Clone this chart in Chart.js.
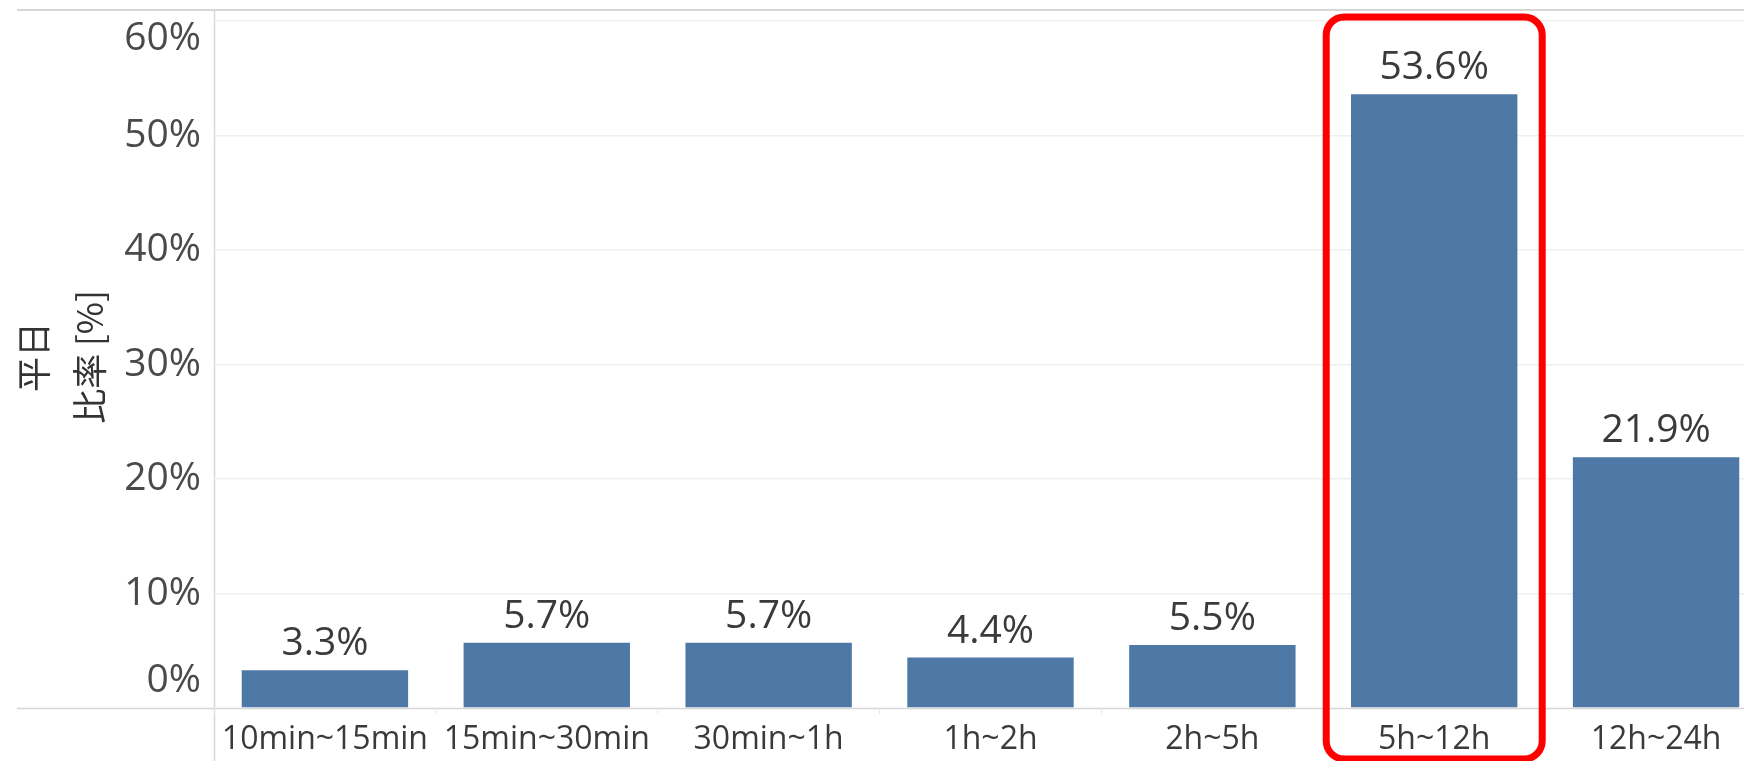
<!DOCTYPE html>
<html>
<head>
<meta charset="utf-8">
<script src="https://cdn.jsdelivr.net/npm/chart.js@4/dist/chart.umd.min.js"></script>
<style>
  html, body { margin: 0; padding: 0; background: #fff; }
  #wrap { width: 1744px; height: 761px; overflow: hidden; position: relative; }
  canvas { display: block; }
</style>
</head>
<body>
<div id="wrap">
  <canvas id="share-chart" width="1767" height="761"></canvas>
</div>
<script>
// data
const categories = ['10min~15min', '15min~30min', '30min~1h', '1h~2h', '2h~5h', '5h~12h', '12h~24h'];
const shares = [3.3, 5.7, 5.7, 4.4, 5.5, 53.6, 21.9];
const yTicks = [0, 10, 20, 30, 40, 50, 60];
const yTitle = ['平日', '比率 [%]'];
const highlightIndex = 5;

const barColor = '#4e79a7';
const numFont = '"Open Sans", "DejaVu Sans", sans-serif';
const cjkFont = '"Noto Sans CJK JP", "Noto Sans", sans-serif';

// frame lines, axis title, y tick labels, value labels and the red highlight box
const decorations = {
    id: 'decorations',
    beforeDraw(chart) {
        const ctx = chart.ctx;
        const y = chart.scales.y;
        const base = y.getPixelForValue(0);
        ctx.save();
        ctx.strokeStyle = '#d6d6d6';
        ctx.lineWidth = 2;
        ctx.beginPath();
        ctx.moveTo(17, 10);
        ctx.lineTo(chart.width, 10);
        ctx.stroke();
        ctx.lineWidth = 1.5;
        ctx.beginPath();
        ctx.moveTo(17, base + 0.5);
        ctx.lineTo(chart.width, base + 0.5);
        ctx.moveTo(chart.chartArea.left + 0.5, 10);
        ctx.lineTo(chart.chartArea.left + 0.5, chart.height);
        ctx.stroke();
        ctx.restore();
    },
    afterDraw(chart) {
        const ctx = chart.ctx;
        const y = chart.scales.y;
        const x = chart.scales.x;
        ctx.save();

        // rotated two-line axis title
        ctx.save();
        ctx.translate(0, 357);
        ctx.rotate(-Math.PI / 2);
        ctx.font = '35px ' + cjkFont;
        ctx.fillStyle = '#333';
        ctx.textAlign = 'center';
        ctx.textBaseline = 'middle';
        ctx.fillText(yTitle[0], 0, 34);
        ctx.fillText(yTitle[1], 0, 90);
        ctx.restore();

        // y tick labels, kept inside the plot like the original
        ctx.font = '39px ' + numFont;
        ctx.fillStyle = '#4a4a4a';
        ctx.textAlign = 'right';
        ctx.textBaseline = 'middle';
        yTicks.forEach(function(v) {
            let py = y.getPixelForValue(v);
            if (v === y.max) py += 18;
            if (v === 0) py -= 27;
            ctx.fillText(v + '%', chart.chartArea.left - 13, py);
        });

        // value labels above bars
        ctx.font = '39px ' + numFont;
        ctx.fillStyle = '#3a3a3a';
        ctx.textAlign = 'center';
        ctx.textBaseline = 'alphabetic';
        const meta = chart.getDatasetMeta(0);
        meta.data.forEach(function(bar, i) {
            ctx.fillText(shares[i].toFixed(1) + '%', bar.x, bar.y - 15);
        });

        // red rounded box around the highlighted category
        const cx = x.getPixelForValue(highlightIndex);
        const half = 108, top = 17, bottom = 759, r = 18;
        const l = cx - half, rt = cx + half;
        ctx.strokeStyle = '#ff0000';
        ctx.lineWidth = 7;
        ctx.beginPath();
        ctx.moveTo(l + r, top);
        ctx.lineTo(rt - r, top);
        ctx.arcTo(rt, top, rt, top + r, r);
        ctx.lineTo(rt, bottom - r);
        ctx.arcTo(rt, bottom, rt - r, bottom, r);
        ctx.lineTo(l + r, bottom);
        ctx.arcTo(l, bottom, l, bottom - r, r);
        ctx.lineTo(l, top + r);
        ctx.arcTo(l, top, l + r, top, r);
        ctx.closePath();
        ctx.stroke();
        ctx.restore();
    }
};

const ctx = document.getElementById('share-chart').getContext('2d');

const shareChart = new Chart(ctx, {
    type: 'bar',
    data: {
        labels: categories,
        datasets: [{
            data: shares,
            backgroundColor: barColor,
            borderWidth: 0,
            barPercentage: 0.75,
            categoryPercentage: 1.0
        }]
    },
    options: {
        responsive: false,
        animation: false,
        devicePixelRatio: 1,
        layout: { padding: { top: 21, right: 0, bottom: 0, left: 0 } },
        plugins: {
            legend: { display: false },
            tooltip: { enabled: false }
        },
        scales: {
            x: {
                grid: {
                    offset: true,
                    drawOnChartArea: false,
                    drawTicks: true,
                    tickLength: 6,
                    color: '#e8e8e8'
                },
                border: { display: false },
                ticks: {
                    autoSkip: false,
                    maxRotation: 0,
                    padding: 7,
                    color: '#3a3a3a',
                    font: { family: numFont, size: 32 }
                },
                afterFit: function(scale) { scale.height = 53; }
            },
            y: {
                min: 0,
                max: 60,
                ticks: { display: false, stepSize: 10 },
                border: { display: false },
                grid: {
                    drawTicks: false,
                    color: function(c) { return c.tick && c.tick.value === 0 ? 'rgba(0,0,0,0)' : '#efefef'; },
                    lineWidth: 1.5
                },
                afterFit: function(scale) { scale.width = 214; }
            }
        }
    },
    plugins: [decorations]
});
</script>
</body>
</html>
